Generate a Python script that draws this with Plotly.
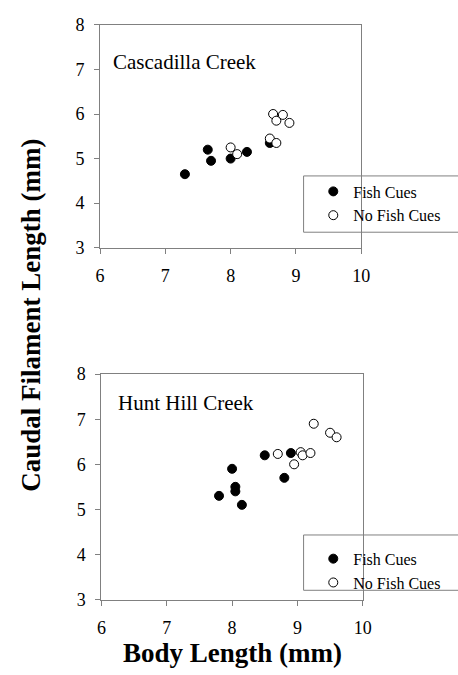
import plotly.graph_objects as go

W, H = 458, 675

# Cascadilla Creek
casc_fish_x = [7.3, 7.65, 7.7, 8.0, 8.25, 8.6]
casc_fish_y = [4.65, 5.2, 4.95, 5.0, 5.15, 5.35]
casc_nofish_x = [8.0, 8.1, 8.6, 8.7, 8.65, 8.7, 8.8, 8.9]
casc_nofish_y = [5.25, 5.1, 5.45, 5.35, 6.0, 5.85, 5.98, 5.8]

# Hunt Hill Creek
hunt_fish_x = [7.8, 8.0, 8.05, 8.05, 8.15, 8.5, 8.8, 8.9]
hunt_fish_y = [5.3, 5.9, 5.5, 5.4, 5.1, 6.2, 5.7, 6.25]
hunt_nofish_x = [8.7, 8.95, 9.05, 9.08, 9.2, 9.25, 9.5, 9.6]
hunt_nofish_y = [6.23, 6.0, 6.27, 6.2, 6.25, 6.9, 6.7, 6.6]

x_ticks = [6, 7, 8, 9, 10]
y_ticks = [3, 4, 5, 6, 7, 8]
panel_titles = ["Cascadilla Creek", "Hunt Hill Creek"]
legend_names = ["Fish Cues", "No Fish Cues"]
x_title = "Body Length (mm)"
y_title = "Caudal Filament Length (mm)"

FONT = "Liberation Serif, Times New Roman, serif"
GRAY = "#808080"

filled = dict(symbol="circle", size=9, color="black", line=dict(color="black", width=1))
hollow = dict(symbol="circle", size=9, color="white", line=dict(color="black", width=1))

fig = go.Figure()
fig.add_trace(go.Scatter(x=casc_fish_x, y=casc_fish_y, mode="markers", marker=filled,
                         name=legend_names[0], xaxis="x", yaxis="y", legend="legend"))
fig.add_trace(go.Scatter(x=casc_nofish_x, y=casc_nofish_y, mode="markers", marker=hollow,
                         name=legend_names[1], xaxis="x", yaxis="y", legend="legend"))
fig.add_trace(go.Scatter(x=hunt_fish_x, y=hunt_fish_y, mode="markers", marker=filled,
                         name=legend_names[0], xaxis="x2", yaxis="y2", legend="legend2"))
fig.add_trace(go.Scatter(x=hunt_nofish_x, y=hunt_nofish_y, mode="markers", marker=hollow,
                         name=legend_names[1], xaxis="x2", yaxis="y2", legend="legend2"))

def px_x(p):
    return p / W

def px_y(p):
    return 1 - p / H

axis_common = dict(showgrid=False, zeroline=False, showline=True, linecolor=GRAY, linewidth=1,
                   mirror=True, ticks="outside", ticklen=5, tickcolor=GRAY, tickwidth=1,
                   tickfont=dict(family=FONT, size=18, color="black"))
x_axis_common = dict(axis_common, ticklabelstandoff=7)
y_axis_common = dict(axis_common, ticklabelstandoff=6)

x_dom1 = [px_x(98), px_x(367.5)]
x_dom2 = [px_x(99.5), px_x(369)]
y_dom1 = [px_y(245), px_y(15.3)]
y_dom2 = [px_y(607.5), px_y(375.3)]

fig.update_layout(
    width=W, height=H,
    margin=dict(l=0, r=0, t=0, b=0),
    paper_bgcolor="white", plot_bgcolor="white",
    font=dict(family=FONT, color="black"),
    xaxis=dict(domain=x_dom1, range=[6, 10], tickvals=x_ticks, anchor="y", **x_axis_common),
    yaxis=dict(domain=y_dom1, range=[3, 8], tickvals=y_ticks, anchor="x", **y_axis_common),
    xaxis2=dict(domain=x_dom2, range=[6, 10], tickvals=x_ticks, anchor="y2", **x_axis_common),
    yaxis2=dict(domain=y_dom2, range=[3, 8], tickvals=y_ticks, anchor="x2", **y_axis_common),
    legend=dict(x=px_x(318), y=px_y(169.5), xanchor="left", yanchor="top",
                bgcolor="rgba(0,0,0,0)", borderwidth=0,
                font=dict(family=FONT, size=16, color="black")),
    legend2=dict(x=px_x(318), y=px_y(548), xanchor="left", yanchor="top",
                 bgcolor="rgba(0,0,0,0)", borderwidth=0,
                 font=dict(family=FONT, size=16, color="black")),
    shapes=[
        dict(type="rect", xref="paper", yref="paper", x0=px_x(308), x1=px_x(470),
             y0=px_y(229), y1=px_y(171), line=dict(color=GRAY, width=1), fillcolor="white", layer="below"),
        dict(type="rect", xref="paper", yref="paper", x0=px_x(308), x1=px_x(470),
             y0=px_y(598), y1=px_y(541), line=dict(color=GRAY, width=1), fillcolor="white", layer="below"),
    ],
    annotations=[
        dict(text=panel_titles[0], xref="paper", yref="paper", x=px_x(109), y=px_y(54),
             xanchor="left", yanchor="middle", showarrow=False,
             font=dict(family=FONT, size=21, color="black")),
        dict(text=panel_titles[1], xref="paper", yref="paper", x=px_x(115), y=px_y(405),
             xanchor="left", yanchor="middle", showarrow=False,
             font=dict(family=FONT, size=21, color="black")),
        dict(text="<b>" + x_title + "</b>", xref="paper", yref="paper", x=px_x(235), y=0,
             xanchor="center", yanchor="bottom", showarrow=False, borderpad=0, yshift=-4,
             font=dict(family=FONT, size=27, color="black")),
        dict(text="<b>" + y_title + "</b>", xref="paper", yref="paper", x=px_x(26), y=px_y(315),
             xanchor="center", yanchor="middle", showarrow=False, textangle=-90,
             font=dict(family=FONT, size=27, color="black")),
    ],
)

fig.write_html("out.html")
